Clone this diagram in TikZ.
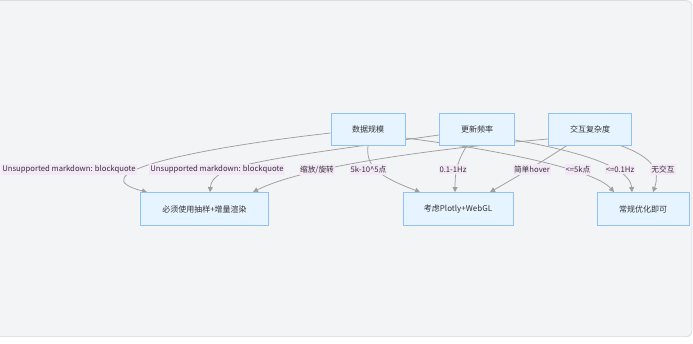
\documentclass[tikz,border=0pt]{standalone}
\usepackage{fontspec}
\newfontfamily\cjk{Noto Sans CJK SC}
\usetikzlibrary{arrows.meta}
\definecolor{panelbg}{HTML}{F3F4F6}
\definecolor{panelbd}{HTML}{DADCE0}
\definecolor{nodefill}{HTML}{E6F4FF}
\definecolor{nodedraw}{HTML}{90C2F9}
\definecolor{edgecol}{HTML}{9E9E9E}
\definecolor{lblfill}{HTML}{F4E8F8}
\definecolor{txt}{HTML}{333333}
\pgfdeclarelayer{bg}
\pgfdeclarelayer{edges}
\pgfsetlayers{bg,edges,main}
\tikzset{
  box/.style={draw=nodedraw, fill=nodefill, line width=0.8pt, text=txt,
    font=\cjk\fontsize{8}{10}\selectfont, inner sep=0pt, minimum height=32pt},
  lbl/.style={fill=lblfill, text=txt, font=\cjk\fontsize{7.7}{9}\selectfont,
    inner xsep=1pt, inner ysep=1.5pt},
  edge/.style={draw=edgecol, line width=0.75pt, -{Triangle[length=5pt,width=5pt]}}
}
\begin{document}
\begin{tikzpicture}[x=1pt,y=-1pt]
\useasboundingbox (0,0) rectangle (693,344);
\begin{pgfonlayer}{bg}
\clip (0,0) rectangle (693,344);
\draw[fill=panelbg, draw=panelbd, line width=0.8pt, rounded corners=6pt] (-20,0.6) rectangle (692,336.8);
\end{pgfonlayer}
% nodes
\node[box, minimum width=74pt] (A) at (368,129) {数据规模};
\node[box, minimum width=75pt] (B) at (477,129) {更新频率};
\node[box, minimum width=83pt] (C) at (590,129) {交互复杂度};
\node[box, minimum width=128pt, minimum height=33pt] (P) at (204.5,209) {必须使用抽样+增量渲染};
\node[box, minimum width=110pt, minimum height=33pt] (Q) at (458,209) {考虑Plotly+WebGL};
\node[box, minimum width=92pt, minimum height=33pt] (R) at (643,209) {常规优化即可};
% labels
\node[lbl] (L1) at (69,169.5) {Unsupported markdown: blockquote};
\node[lbl] (L2) at (217,169.5) {Unsupported markdown: blockquote};
\node[lbl] (L3) at (317,169.5) {缩放/旋转};
\node[lbl] (L4) at (368.5,169.5) {5k-10\^{}5点};
\node[lbl] (L5) at (453,169.5) {0.1-1Hz};
\node[lbl] (L6) at (532,169.5) {简单hover};
\node[lbl] (L7) at (578,169.5) {<=5k点};
\node[lbl] (L8) at (620,169.5) {<=0.1Hz};
\node[lbl] (L9) at (663,169.5) {无交互};
% edges
\begin{pgfonlayer}{edges}
\draw[edge] ([yshift=-4pt]A.west) .. controls (180,150) and (80,175) .. ([xshift=-57.5pt]P.north);
\draw[edge] ([yshift=-6pt]B.west) .. controls (260,160) and (212,165) .. ([xshift=5.5pt]P.north);
\draw[edge] ([yshift=-10pt]C.west) .. controls (420,150) and (300,168) .. ([xshift=48.5pt]P.north);
\draw[edge] (A.south) .. controls (366,165) and (375,175) .. ([xshift=-38pt]Q.north);
\draw[edge] ([xshift=-10pt]B.south) .. controls (458,160) and (455,170) .. ([xshift=-3pt]Q.north);
\draw[edge] ([xshift=-23pt]C.south) .. controls (545,160) and (520,175) .. ([xshift=32pt]Q.north);
\draw[edge] ([yshift=-9pt]A.east) .. controls (500,150) and (595,170) .. ([xshift=-29pt]R.north);
\draw[edge] ([yshift=-11pt]B.east) .. controls (570,150) and (630,165) .. ([xshift=-11pt]R.north);
\draw[edge] ([xshift=30pt]C.south) .. controls (655,158) and (660,172) .. ([xshift=10pt]R.north);
\end{pgfonlayer}
\end{tikzpicture}
\end{document}
